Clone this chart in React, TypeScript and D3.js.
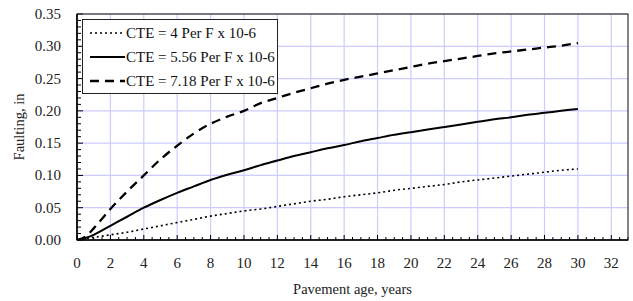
import React from "react";
import * as d3 from "d3";

// pavement age, years
const years = [0, 0.5, 1, 1.5, 2, 3, 4, 5, 6, 7, 8, 9, 10, 11, 12, 13, 14, 15, 16, 17, 18, 19, 20, 21, 22, 23, 24, 25, 26, 27, 28, 29, 30];

// faulting, in
const cte4 = [0, 0.002, 0.004, 0.006, 0.008, 0.012, 0.017, 0.022, 0.027, 0.032, 0.037, 0.041, 0.045, 0.048, 0.052, 0.056, 0.06, 0.063, 0.067, 0.07, 0.073, 0.077, 0.08, 0.083, 0.086, 0.09, 0.093, 0.096, 0.099, 0.102, 0.105, 0.108, 0.11];
const cte556 = [0, 0.003, 0.008, 0.015, 0.022, 0.036, 0.05, 0.062, 0.073, 0.083, 0.093, 0.101, 0.108, 0.116, 0.123, 0.13, 0.136, 0.142, 0.147, 0.153, 0.158, 0.163, 0.167, 0.171, 0.175, 0.179, 0.183, 0.187, 0.19, 0.194, 0.197, 0.2, 0.203];
const cte718 = [0, 0.005, 0.018, 0.033, 0.048, 0.075, 0.1, 0.125, 0.146, 0.165, 0.18, 0.191, 0.2, 0.212, 0.22, 0.228, 0.235, 0.242, 0.248, 0.253, 0.258, 0.263, 0.268, 0.273, 0.277, 0.281, 0.285, 0.289, 0.292, 0.295, 0.298, 0.301, 0.305];

const seriesNames = ["CTE = 4 Per F x 10-6", "CTE = 5.56 Per F x 10-6", "CTE = 7.18 Per F x 10-6"];
const seriesValues = [cte4, cte556, cte718];
const dashes = ["2,3", "", "9,6"];
const widths = [1.6, 2, 2.3];

const xTicks = d3.range(0, 33, 2);
const yTicks = d3.range(0, 0.351, 0.05);

const W = 633;
const H = 301;
const m = { left: 77, right: 628, top: 14, bottom: 240 };
const font = "'Liberation Serif', 'Times New Roman', Times, serif";

export default function App() {
  const x = d3.scaleLinear().domain([0, 33]).range([m.left, m.right]);
  const y = d3.scaleLinear().domain([0, 0.35]).range([m.bottom, m.top]);
  const line = (vals: number[]) =>
    d3.line<number>()
      .x((_, i) => x(years[i]))
      .y((d) => y(d))
      .curve(d3.curveMonotoneX)(vals) as string;

  const xMinor = d3.range(0, 33.01, 0.5);
  const yMinor = d3.range(0, 0.3501, 0.01);

  return (
    <svg width={W} height={H} style={{ position: "absolute", left: 0, top: 0, fontFamily: font }}>
      <rect width={W} height={H} fill="#fff" />
      {/* grid */}
      {xTicks.slice(1).map((t) => (
        <line key={"gx" + t} x1={x(t)} x2={x(t)} y1={m.top} y2={m.bottom} stroke="#ccccff" strokeWidth={1.2} />
      ))}
      {yTicks.slice(1).map((t) => (
        <line key={"gy" + t} x1={m.left} x2={m.right} y1={y(t)} y2={y(t)} stroke="#ccccff" strokeWidth={1.2} />
      ))}
      {/* minor ticks */}
      {xMinor.map((t, i) => (
        <line key={"mx" + i} x1={x(t)} x2={x(t)} y1={m.bottom} y2={m.bottom - (i % 4 === 0 ? 5 : 3)} stroke="#000" strokeWidth={1} />
      ))}
      {yMinor.map((t, i) => (
        <line key={"my" + i} x1={m.left} x2={m.left + (i % 5 === 0 ? 6 : 4)} y1={y(t)} y2={y(t)} stroke="#000" strokeWidth={1} />
      ))}
      {/* series */}
      {seriesValues.map((vals, i) => (
        <path key={"s" + i} d={line(vals)} fill="none" stroke="#000" strokeWidth={widths[i]} strokeDasharray={dashes[i] || undefined} />
      ))}
      {/* frame */}
      <rect x={m.left} y={m.top} width={m.right - m.left} height={m.bottom - m.top} fill="none" stroke="#333" strokeWidth={1.2} />
      <line x1={m.left} x2={m.right} y1={m.bottom} y2={m.bottom} stroke="#000" strokeWidth={1.6} />
      <line x1={m.left} x2={m.left} y1={m.top} y2={m.bottom} stroke="#000" strokeWidth={1.6} />
      {/* tick labels */}
      {xTicks.map((t) => (
        <text key={"tx" + t} x={x(t)} y={268} textAnchor="middle" fontSize={15} fill="#222">{t}</text>
      ))}
      {yTicks.map((t) => (
        <text key={"ty" + t} x={61} y={y(t) + 5} textAnchor="end" fontSize={15} fill="#222">{t.toFixed(2)}</text>
      ))}
      <text x={(m.left + m.right) / 2} y={294} textAnchor="middle" fontSize={14.5} fill="#222">Pavement age, years</text>
      <text transform={`translate(24, ${(m.top + m.bottom) / 2}) rotate(-90)`} textAnchor="middle" fontSize={14.5} fill="#222">Faulting, in</text>
      {/* legend */}
      <rect x={82.5} y={19.5} width={195} height={74} fill="#fff" stroke="#222" strokeWidth={1} />
      {seriesNames.map((n, i) => (
        <g key={"l" + i}>
          <line x1={90} x2={125} y1={33 + i * 24} y2={33 + i * 24} stroke="#000" strokeWidth={widths[i]} strokeDasharray={dashes[i] || undefined} />
          <text x={126} y={38 + i * 24} fontSize={15} fill="#111">{n}</text>
        </g>
      ))}
    </svg>
  );
}
